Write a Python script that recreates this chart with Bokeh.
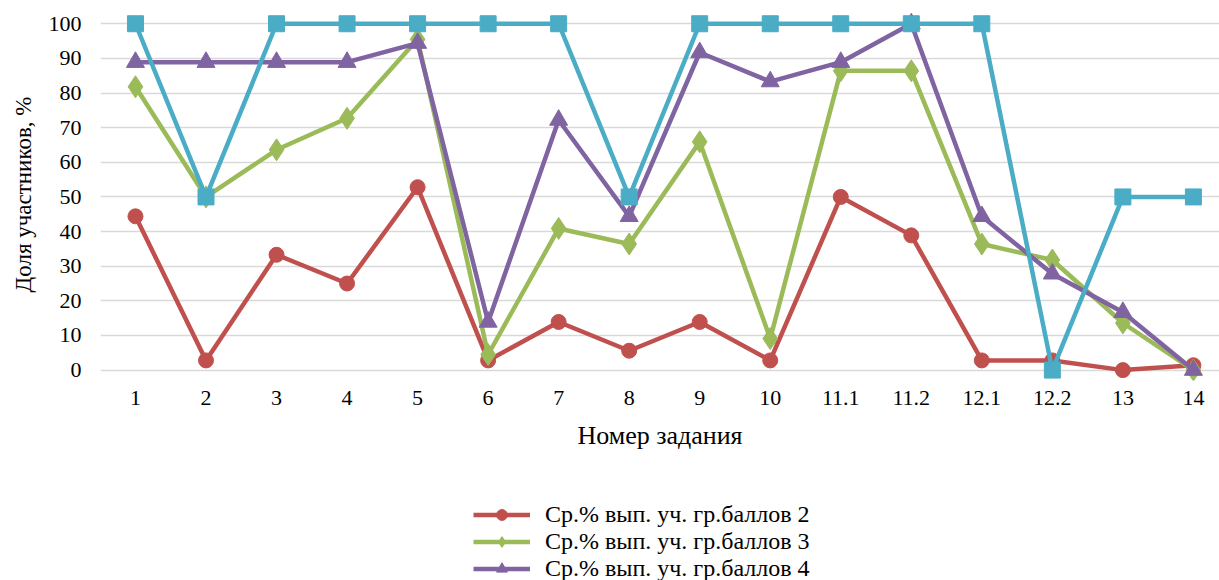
from bokeh.plotting import figure
from bokeh.models import Range1d, FixedTicker, Legend, LegendItem
from bokeh.layouts import column
from bokeh.embed import file_html
from bokeh.resources import INLINE

tasks = ["1", "2", "3", "4", "5", "6", "7", "8", "9", "10",
         "11.1", "11.2", "12.1", "12.2", "13", "14"]
grade2 = [44.4, 2.8, 33.3, 25.0, 52.8, 2.8, 13.9, 5.6, 13.9, 2.8, 50.0, 38.9, 2.8, 2.8, 0.0, 1.4]
grade3 = [81.8, 50.0, 63.6, 72.7, 95.5, 4.5, 40.9, 36.4, 65.9, 9.1, 86.4, 86.4, 36.4, 31.8, 13.6, 0.0]
grade4 = [88.9, 88.9, 88.9, 88.9, 94.4, 13.9, 72.2, 44.4, 91.7, 83.3, 88.9, 100.0, 44.4, 27.8, 16.7, 0.0]
grade5 = [100, 50, 100, 100, 100, 100, 100, 50, 100, 100, 100, 100, 100, 0, 50, 50]
series_names = ["Ср.% вып. уч. гр.баллов 2", "Ср.% вып. уч. гр.баллов 3",
                "Ср.% вып. уч. гр.баллов 4", "Ср.% вып. уч. гр.баллов 5"]
y_ticks = list(range(0, 101, 10))

FONT = "Liberation Serif"
x = list(range(1, len(tasks) + 1))

p = figure(frame_width=1119, frame_height=372, output_backend="svg", toolbar_location=None,
           x_range=Range1d(0.504, 16.37), y_range=Range1d(-3.0, 104.4),
           min_border_left=100, min_border_right=0, min_border_top=8, min_border_bottom=80)
p.outline_line_color = None
p.background_fill_color = "white"
p.border_fill_color = "white"

p.xgrid.grid_line_color = None
p.ygrid.grid_line_color = "#D9D9D9"
p.ygrid.grid_line_width = 1.5
p.yaxis.ticker = FixedTicker(ticks=y_ticks)
p.xaxis.ticker = FixedTicker(ticks=x)
p.xaxis.major_label_overrides = {i: t for i, t in zip(x, tasks)}

for ax in (p.xaxis[0], p.yaxis[0]):
    ax.axis_line_color = None
    ax.major_tick_line_color = None
    ax.minor_tick_line_color = None
    ax.major_tick_in = 0
    ax.major_tick_out = 0
    ax.major_label_text_font = FONT
    ax.major_label_text_font_size = "22px"
    ax.major_label_text_color = "black"
    ax.axis_label_text_font = FONT
    ax.axis_label_text_font_style = "normal"
    ax.axis_label_text_color = "black"

p.yaxis.axis_label = "Доля участников, %"
p.xaxis.axis_label = "Номер задания"
p.yaxis.axis_label_text_font_size = "23px"
p.xaxis.axis_label_text_font_size = "26px"
p.yaxis.major_label_standoff = 19
p.yaxis.axis_label_standoff = 10
p.xaxis.major_label_standoff = 10
p.xaxis.axis_label_standoff = 13

colors = ["#C0504D", "#9BBB59", "#8064A2", "#4BACC6"]
data = [grade2, grade3, grade4, grade5]
markers = ["circle", "diamond", "triangle", "square"]
sizes = [15, 22, 18, 16]

for vals, c, m, s in zip(data, colors, markers, sizes):
    p.line(x, vals, line_color=c, line_width=4.5)
    p.scatter(x, vals, marker=m, size=s, fill_color=c, line_color=c)

# legend strip below the chart: the same series, drawn outside this strip's ranges,
# so that only their legend samples are visible
lg = figure(width=1219, height=120, output_backend="svg", toolbar_location=None,
            x_axis_location=None, y_axis_location=None,
            x_range=Range1d(-1000, -999), y_range=Range1d(-1000, -999),
            min_border_left=0, min_border_right=0, min_border_top=0, min_border_bottom=0)
lg.grid.visible = False
lg.outline_line_color = None
lg.background_fill_color = "white"
lg.border_fill_color = "white"

items = []
for vals, c, m, s, name in zip(data, colors, markers, sizes, series_names):
    ln = lg.line(x, vals, line_color=c, line_width=4.5)
    sc = lg.scatter(x, vals, marker=m, size=s, fill_color=c, line_color=c)
    items.append(LegendItem(label=name, renderers=[ln, sc]))

# only the first three legend entries are visible in the reference picture
legend = Legend(items=items[:3], location=(373, -2), orientation="vertical",
                glyph_width=57, glyph_height=27, label_height=27, spacing=0,
                label_standoff=15, padding=0, margin=0,
                label_text_font=FONT, label_text_font_size="24px",
                label_text_color="black",
                background_fill_alpha=0, border_line_color=None)
lg.add_layout(legend, "center")

open("out.html", "w").write(file_html(column(p, lg, spacing=0), INLINE))
